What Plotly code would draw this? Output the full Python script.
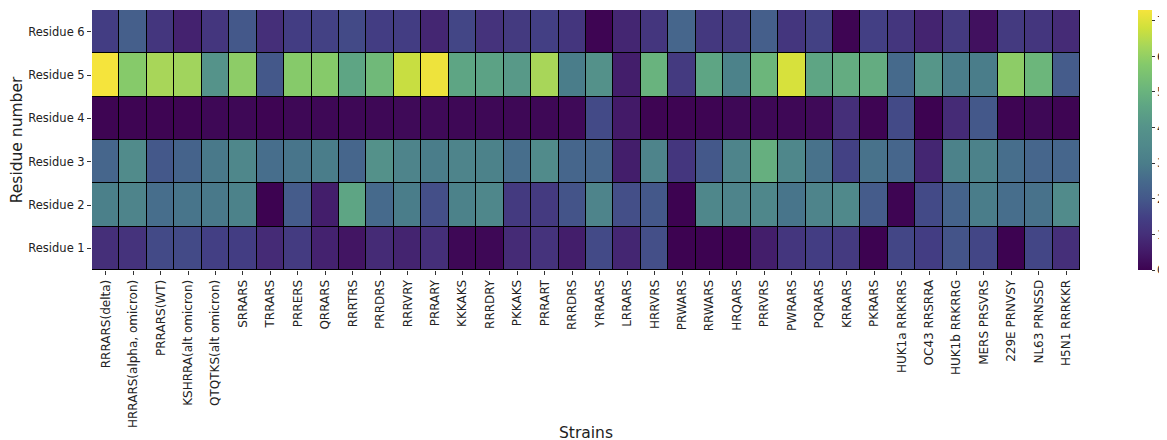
import plotly.graph_objects as go

strains = ["RRRARS(delta)", "HRRARS(alpha, omicron)", "PRRARS(WT)", "KSHRRA(alt omicron)",
           "QTQTKS(alt omicron)", "SRRARS", "TRRARS", "PRRERS", "QRRARS", "RRRTRS", "PRRDRS",
           "RRRVRY", "PRRARY", "KKKAKS", "RRRDRY", "PKKAKS", "PRRART", "RRRDRS", "YRRARS",
           "LRRARS", "HRRVRS", "PRWARS", "RRWARS", "HRQARS", "PRRVRS", "PWRARS", "PQRARS",
           "KRRARS", "PKRARS", "HUK1a RRKRRS", "OC43 RRSRRA", "HUK1b RRKRRG", "MERS PRSVRS",
           "229E PRNVSY", "NL63 PRNSSD", "H5N1 RRRKKR"]

residues = ["Residue 1", "Residue 2", "Residue 3", "Residue 4", "Residue 5", "Residue 6"]

residue_1 = [1.0, 1.1, 1.7, 1.7, 1.45, 1.4, 0.9, 1.35, 0.7, 0.4, 0.9, 0.75, 1.0, 0.1,
             0.1, 0.9, 1.1, 0.6, 1.7, 0.8, 1.8, 0.0, 0.0, 0.0, 0.6, 1.2, 1.4, 1.3, 0.0,
             1.6, 1.4, 1.9, 1.6, 0.0, 1.6, 1.0]
residue_2 = [3.1, 3.3, 2.6, 2.8, 2.9, 3.2, 0.0, 2.1, 0.6, 4.6, 2.5, 3.0, 1.8, 3.2,
             3.4, 1.3, 1.3, 1.9, 3.3, 1.8, 2.0, 0.0, 3.4, 3.3, 3.4, 2.8, 3.3, 3.5, 2.1,
             0.05, 1.7, 2.3, 3.0, 2.6, 2.7, 3.6]
residue_3 = [2.4, 3.6, 2.0, 2.3, 2.9, 3.4, 2.6, 2.8, 3.0, 2.4, 3.9, 3.3, 3.0, 3.3,
             3.2, 2.6, 3.6, 2.4, 2.4, 0.6, 3.3, 1.2, 2.0, 3.3, 4.9, 3.4, 2.7, 1.5, 2.7,
             2.4, 0.8, 3.2, 3.2, 2.6, 2.4, 2.4]
residue_4 = [0.05, 0.05, 0.05, 0.05, 0.1, 0.1, 0.05, 0.1, 0.1, 0.1, 0.1, 0.15, 0.15, 0.1,
             0.1, 0.1, 0.1, 0.15, 1.7, 0.5, 0.05, 0.05, 0.05, 0.1, 0.1, 0.1, 0.15, 1.0, 0.05,
             1.7, 0.0, 0.9, 2.0, 0.05, 0.1, 0.05]
residue_5 = [7.3, 5.8, 6.3, 6.2, 4.0, 5.9, 2.0, 5.8, 5.8, 4.6, 5.2, 6.7, 7.2, 4.6,
             4.5, 4.2, 6.3, 3.0, 3.9, 0.6, 5.0, 1.3, 4.6, 3.2, 5.1, 6.9, 4.6, 4.8, 4.8,
             2.5, 4.1, 3.0, 3.0, 5.9, 5.1, 2.1]
residue_6 = [1.4, 2.2, 1.2, 0.7, 1.2, 2.0, 1.0, 1.4, 1.5, 1.7, 1.4, 1.4, 0.8, 1.6,
             1.1, 1.3, 1.45, 1.2, 0.05, 0.8, 1.2, 2.4, 1.25, 1.3, 2.2, 1.2, 1.5, 0.05, 1.45,
             1.2, 0.75, 1.3, 0.3, 1.3, 1.2, 0.9]

z = [residue_1, residue_2, residue_3, residue_4, residue_5, residue_6]

# muted viridis as rendered in the reference
colorscale = [
    [0.0, "#3d0351"], [0.07, "#431a68"], [0.14, "#45307a"], [0.2, "#433f84"],
    [0.27, "#44578a"], [0.34, "#46698c"], [0.41, "#4a7d8a"], [0.48, "#50898b"],
    [0.55, "#55938a"], [0.63, "#5ea584"], [0.69, "#6ab47d"], [0.79, "#84c96b"],
    [0.86, "#a6d65a"], [0.93, "#cfe03c"], [1.0, "#f5e43c"],
]

font_family = "DejaVu Sans"

fig = go.Figure(go.Heatmap(
    z=z, x=strains, y=residues,
    colorscale=colorscale, zmin=0, zmax=7.3,
    xgap=1, ygap=1,
    colorbar=dict(
        thickness=14, len=1, lenmode="fraction", y=0.5, yanchor="middle",
        x=1.0587, xanchor="left", xpad=0, ypad=0, outlinewidth=0,
        tickmode="array", tickvals=[0, 1, 2, 3, 4, 5, 6, 7],
        ticks="outside", ticklen=3, tickcolor="#333",
        ticklabeloverflow="allow",
        tickfont=dict(family=font_family, size=12, color="#222"),
    ),
))

fig.update_layout(
    width=1167, height=440,
    margin=dict(l=84, r=95, t=2, b=178, autoexpand=False),
    paper_bgcolor="white", plot_bgcolor="black",
    font=dict(family=font_family, color="#222"),
    xaxis=dict(
        title=dict(text="Strains", font=dict(size=15.5, family=font_family), standoff=0),
        tickangle=-90, ticks="outside", ticklen=4, tickcolor="#333",
        tickfont=dict(size=12, family=font_family),
        showgrid=False, zeroline=False, showline=False, automargin=False,
    ),
    yaxis=dict(
        title=dict(text="Residue number", font=dict(size=15.5, family=font_family), standoff=2),
        ticks="outside", ticklen=4, tickcolor="#333",
        tickfont=dict(size=11.5, family=font_family),
        showgrid=False, zeroline=False, showline=False, automargin=False,
    ),
)

fig.write_html("out.html")
